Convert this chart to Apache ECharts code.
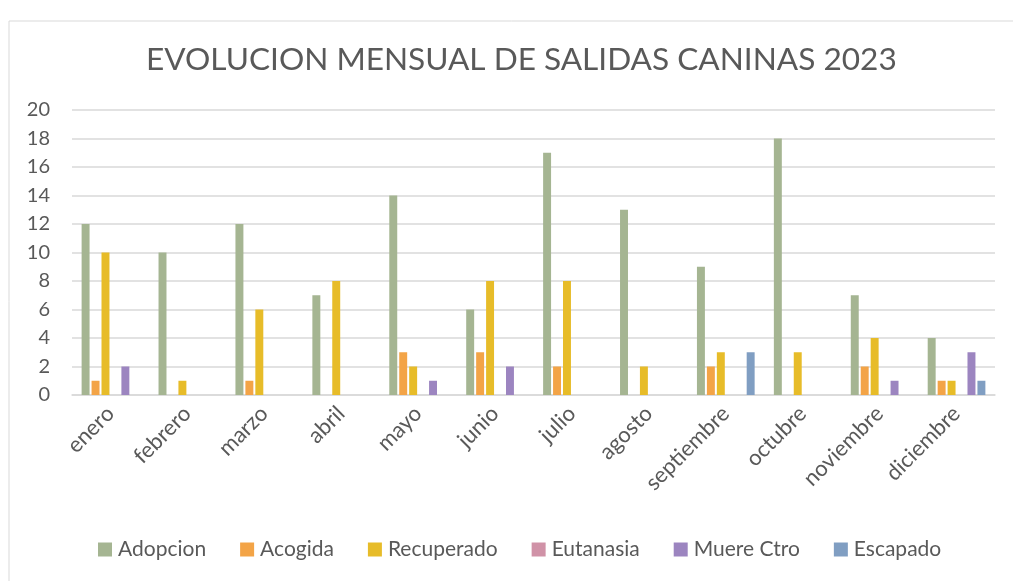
<!DOCTYPE html>
<html><head><meta charset="utf-8">
<script src="https://cdn.jsdelivr.net/npm/echarts@6/dist/echarts.min.js"></script>
<style>html,body{margin:0;padding:0;background:#fff}#c{width:1013px;height:581px}</style>
</head><body><div id="c"></div>
<script>
const months = ['enero','febrero','marzo','abril','mayo','junio','julio','agosto','septiembre','octubre','noviembre','diciembre'];
const seriesNames = ['Adopcion','Acogida','Recuperado','Eutanasia','Muere Ctro','Escapado'];
const adopcion   = [12,10,12,7,14,6,17,13,9,18,7,4];
const acogida    = [1,0,1,0,3,3,2,0,2,0,2,1];
const recuperado = [10,1,6,8,2,8,8,2,3,3,4,1];
const eutanasia  = [0,0,0,0,0,0,0,0,0,0,0,0];
const muereCtro  = [2,0,0,0,1,2,0,0,0,0,1,3];
const escapado   = [0,0,0,0,0,0,0,0,3,0,0,1];
const yTicks = [0,2,4,6,8,10,12,14,16,18,20];
const colors = ['#A5B592','#F3A447','#E7BC29','#D092A7','#9C85C0','#809EC2'];
const values = [adopcion, acogida, recuperado, eutanasia, muereCtro, escapado];
const FONT = 'Lato, "Open Sans", sans-serif';
const chart = echarts.init(document.getElementById('c'));
chart.setOption({
  animation: false,
  color: colors,
  title: {
    text: 'EVOLUCION MENSUAL DE SALIDAS CANINAS 2023',
    left: 141, top: 39,
    textStyle: { fontFamily: FONT, fontSize: 31.6, fontWeight: 'normal', color: '#595959' }
  },
  graphic: [{
    type: 'rect', shape: { x: 9, y: 21, width: 1010, height: 600 },
    style: { fill: 'none', stroke: '#d9d9d9', lineWidth: 1 }, silent: true, z: -1
  }],
  legend: {
    bottom: 16, left: 93, itemWidth: 14, itemHeight: 14, itemGap: 34,
    icon: 'rect',
    textStyle: { fontFamily: FONT, fontSize: 21, color: '#595959', padding: [0, 0, 0, 1] },
    data: seriesNames
  },
  grid: { left: 72, right: 18, top: 110, bottom: 186 },
  xAxis: {
    type: 'category', data: months,
    axisLine: { lineStyle: { color: '#d9d9d9', width: 1.5 } },
    axisTick: { show: false },
    axisLabel: { rotate: 45, interval: 0, fontFamily: FONT, fontSize: 22, color: '#595959', margin: 15 }
  },
  yAxis: {
    type: 'value', min: 0, max: 20, interval: 2,
    axisLine: { show: false }, axisTick: { show: false },
    splitLine: { lineStyle: { color: '#d9d9d9', width: 1.5 } },
    axisLabel: { fontFamily: FONT, fontSize: 20, color: '#595959', margin: 22 }
  },
  series: seriesNames.map((n, i) => ({
    name: n, type: 'bar', data: values[i],
    barGap: '25%', barCategoryGap: '25%'
  }))
});
</script></body></html>
